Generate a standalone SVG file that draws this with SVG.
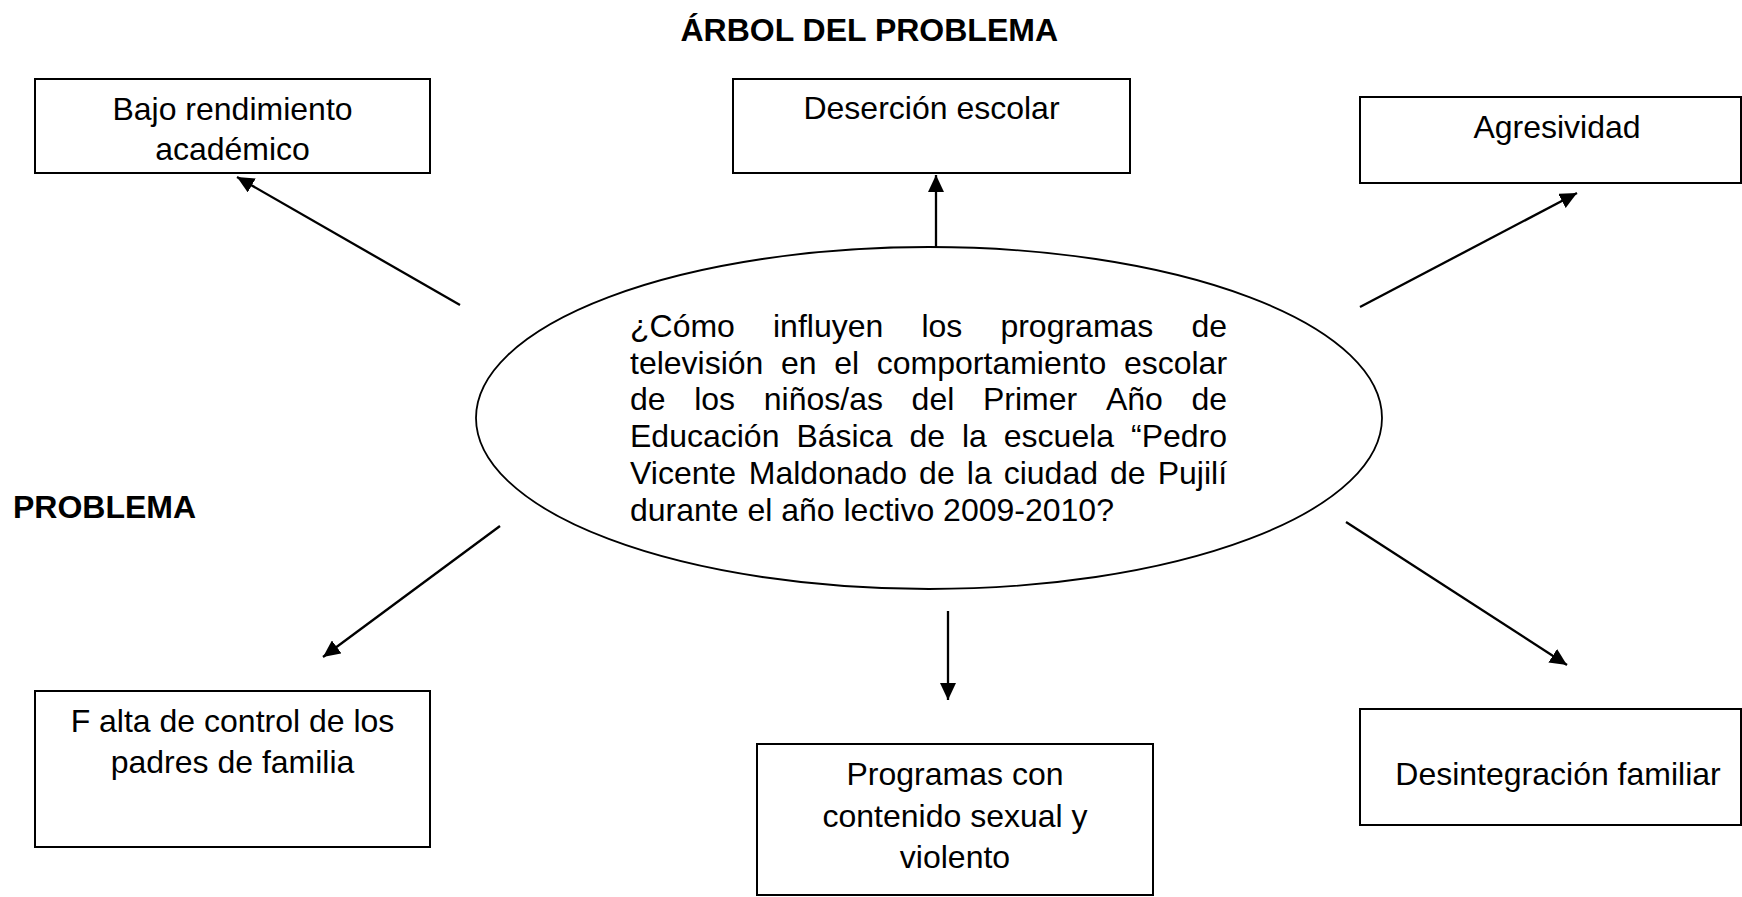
<svg xmlns="http://www.w3.org/2000/svg" width="1742" height="897" viewBox="0 0 1742 897">
<style>
text{font-family:"Liberation Sans",Arial,sans-serif;font-size:32px;fill:#000}
.c{text-anchor:middle}
.b{font-weight:bold}
.box{fill:#fff;stroke:#000;stroke-width:2}
.conn line{stroke:#000;stroke-width:2.3}
</style>
<defs>
<marker id="ah" markerUnits="userSpaceOnUse" markerWidth="18" markerHeight="16" refX="17" refY="8" orient="auto">
<path d="M0,0 L17,8 L0,16 z" fill="#000"/>
</marker>
</defs>
<rect width="1742" height="897" fill="#fff"/>
<g id="title"><text class="b" x="1058" y="41" style="text-anchor:end">ÁRBOL DEL PROBLEMA</text></g>
<g id="label-problema"><text class="b" x="13" y="518">PROBLEMA</text></g>
<g id="bajo">
<rect class="box" x="35" y="79" width="395" height="94"/>
<text class="c" x="232.5" y="120">Bajo rendimiento</text>
<text class="c" x="232.5" y="160">académico</text>
</g>
<g id="desercion">
<rect class="box" x="733" y="79" width="397" height="94"/>
<text class="c" x="931.5" y="119">Deserción escolar</text>
</g>
<g id="agresividad">
<rect class="box" x="1360" y="97" width="381" height="86"/>
<text class="c" x="1557" y="138">Agresividad</text>
</g>
<g id="problema">
<ellipse cx="929" cy="418" rx="453" ry="171" fill="#fff" stroke="#000" stroke-width="1.8"/>
<text y="337"><tspan x="630">¿Cómo</tspan><tspan x="773">influyen</tspan><tspan x="921.4">los</tspan><tspan x="1000.4">programas</tspan><tspan x="1191.4">de</tspan></text>
<text y="373.7"><tspan x="630">televisión</tspan><tspan x="781">en</tspan><tspan x="834.3">el</tspan><tspan x="876.8">comportamiento</tspan><tspan x="1123.9">escolar</tspan></text>
<text y="410.4"><tspan x="630">de</tspan><tspan x="694.2">los</tspan><tspan x="763.8">niños/as</tspan><tspan x="911.6">del</tspan><tspan x="983">Primer</tspan><tspan x="1105.9">Año</tspan><tspan x="1191.4">de</tspan></text>
<text y="447.1"><tspan x="630">Educación</tspan><tspan x="796.4">Básica</tspan><tspan x="909.4">de</tspan><tspan x="961.9">la</tspan><tspan x="1003.8">escuela</tspan><tspan x="1131">“Pedro</tspan></text>
<text y="483.8"><tspan x="630">Vicente</tspan><tspan x="748.8">Maldonado</tspan><tspan x="919.1">de</tspan><tspan x="966.8">la</tspan><tspan x="1003.7">ciudad</tspan><tspan x="1110">de</tspan><tspan x="1157.7">Pujilí</tspan></text>
<text x="630" y="520.5">durante el año lectivo 2009-2010?</text>
</g>
<g id="falta">
<rect class="box" x="35" y="691" width="395" height="156"/>
<text class="c" x="232.5" y="732">F alta de control de los</text>
<text class="c" x="232.5" y="773">padres de familia</text>
</g>
<g id="programas">
<rect class="box" x="757" y="744" width="396" height="151"/>
<text class="c" x="955" y="785">Programas con</text>
<text class="c" x="955" y="827">contenido sexual y</text>
<text class="c" x="955" y="868">violento</text>
</g>
<g id="desintegracion">
<rect class="box" x="1360" y="709" width="381" height="116"/>
<text class="c" x="1558" y="785">Desintegración familiar</text>
</g>
<g id="connectors" class="conn">
<line x1="460" y1="305" x2="237" y2="177" marker-end="url(#ah)"/>
<line x1="936" y1="248" x2="936" y2="175" marker-end="url(#ah)"/>
<line x1="1360" y1="307" x2="1577" y2="193" marker-end="url(#ah)"/>
<line x1="500" y1="526" x2="323" y2="657" marker-end="url(#ah)"/>
<line x1="948" y1="611" x2="948" y2="700" marker-end="url(#ah)"/>
<line x1="1346" y1="522" x2="1567" y2="665" marker-end="url(#ah)"/>
</g>
</svg>
